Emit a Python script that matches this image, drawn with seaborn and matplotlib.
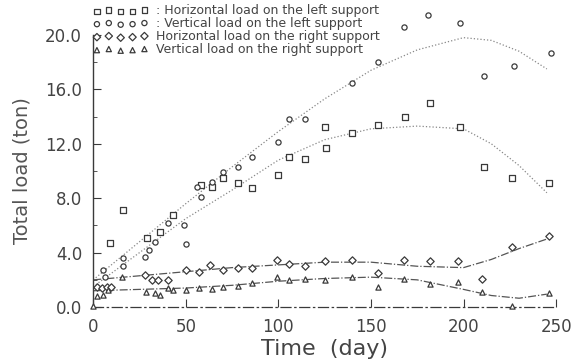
import numpy as np
import pandas as pd
import matplotlib
matplotlib.use("Agg")
import matplotlib.pyplot as plt
import seaborn as sns

# ---- data ----
vl_x = [5.4, 6.5, 16, 16, 28, 30, 33.5, 40.5, 49, 50, 56, 58, 64, 70, 78, 86, 100, 106, 114.6, 140, 154, 168, 181, 198, 211, 227, 247]
vl_y = [2.7, 2.2, 3.6, 3.0, 3.7, 4.2, 4.8, 6.2, 6.0, 4.6, 8.8, 8.1, 9.2, 9.9, 10.3, 11.0, 12.1, 13.8, 13.8, 16.5, 18.0, 20.6, 21.5, 20.9, 17.0, 17.7, 18.7]

hl_x = [9.2, 16, 29, 36, 43, 58, 64, 70, 78, 86, 100, 106, 114.6, 125, 126, 140, 154, 168.6, 182, 198, 211, 226, 246]
hl_y = [4.7, 7.1, 5.1, 5.5, 6.8, 9.0, 8.8, 9.5, 9.1, 8.75, 9.7, 11.0, 10.9, 13.2, 11.7, 12.8, 13.4, 14.0, 15.0, 13.2, 10.3, 9.5, 9.1]

hr_x = [2, 5, 7.5, 9.7, 28, 32, 35, 40.5, 50, 57, 63, 70, 78, 86, 99.5, 106, 114.6, 125, 140, 154, 168, 182, 197, 210, 226, 246]
hr_y = [1.5, 1.4, 1.5, 1.5, 2.35, 2.0, 2.0, 2.0, 2.7, 2.6, 3.1, 2.7, 2.9, 2.9, 3.45, 3.2, 3.0, 3.4, 3.45, 2.5, 3.45, 3.4, 3.4, 2.1, 4.4, 5.2]

vr_x = [0, 2, 5.5, 8, 15.7, 28.6, 33.5, 36, 40.5, 43, 50, 57, 64, 70, 78, 86, 99.5, 106, 114.6, 125, 140, 154, 168, 182, 197, 210, 226, 246]
vr_y = [0.05, 0.8, 0.9, 1.25, 2.2, 1.1, 1.0, 0.9, 1.4, 1.25, 1.25, 1.4, 1.3, 1.5, 1.55, 1.8, 2.2, 2.0, 2.1, 2.0, 2.2, 1.5, 2.1, 1.7, 1.85, 1.1, 0.1, 1.0]

# fitted trend curves
fit_x = [0, 25, 50, 75, 100, 125, 150, 175, 200, 215, 230, 245]
fit_vl = [2.0, 4.8, 7.6, 10.3, 12.9, 15.3, 17.4, 18.9, 19.8, 19.6, 18.8, 17.5]
fit_hl = [1.5, 4.0, 6.5, 8.6, 10.8, 12.3, 13.1, 13.3, 13.1, 12.0, 10.4, 8.4]
fit_hr = [2.0, 2.3, 2.6, 2.9, 3.1, 3.3, 3.3, 3.0, 2.9, 3.5, 4.3, 5.0]
fit_vr = [1.2, 1.3, 1.4, 1.6, 1.9, 2.1, 2.2, 2.0, 1.3, 0.85, 0.65, 0.95]

labels = [": Horizontal load on the left support",
          ": Vertical load on the left support",
          "Horizontal load on the right support",
          "Vertical load on the right support"]
yticks = [0, 4, 8, 12, 16, 20]
ytick_labels = ["0.0", "4.0", "8.0", "12.0", "16.0", "20.0"]
xticks = [0, 50, 100, 150, 200, 250]

sns.set_theme(style="white")
plt.rcParams['font.family'] = ['DejaVu Sans']

fig = plt.figure(figsize=(5.86, 3.60), dpi=100)
ax = fig.add_axes([0.159, 0.147, 0.79, 0.756])

ink = "#3a3a3a"
series = [
    (hl_x, hl_y, "s", labels[0]),
    (vl_x, vl_y, "o", labels[1]),
    (hr_x, hr_y, "D", labels[2]),
    (vr_x, vr_y, "^", labels[3]),
]
for xs, ys, m, lab in series:
    df = pd.DataFrame({"x": xs, "y": ys})
    sns.scatterplot(data=df, x="x", y="y", ax=ax, marker=m, s=14,
                    facecolor="white", edgecolor=ink, linewidth=0.9,
                    label=lab, clip_on=False, zorder=3)

fits = [(fit_vl, ":", "#888888"), (fit_hl, ":", "#888888"),
        (fit_hr, "-.", "#555555"), (fit_vr, "-.", "#555555")]
for fy, ls, c in fits:
    dff = pd.DataFrame({"x": fit_x, "y": fy})
    sns.lineplot(data=dff, x="x", y="y", ax=ax, color=c, linestyle=ls,
                 linewidth=0.9, zorder=2)

ax.set_xlim(0, 250)
ax.set_ylim(0, 20)
ax.set_xticks(xticks)
ax.set_xticklabels([str(v) for v in xticks])
ax.set_yticks(yticks)
ax.set_yticklabels(ytick_labels)
ax.set_yticks([2, 6, 10, 14, 18], minor=True)
ax.tick_params(axis="both", which="major", direction="in", length=6,
               width=0.8, color=ink, labelsize=12, labelcolor="#444444", pad=8)
ax.tick_params(axis="y", which="minor", direction="in", length=3,
               width=0.6, color=ink, left=True)
ax.tick_params(axis="x", bottom=True)
ax.tick_params(axis="y", left=True)

for s in ["top", "right"]:
    ax.spines[s].set_visible(False)
ax.spines["left"].set_color(ink)
ax.spines["left"].set_linewidth(1.0)
ax.spines["bottom"].set_color(ink)
ax.spines["bottom"].set_linewidth(0.9)
ax.spines["bottom"].set_linestyle((0, (8, 3, 1, 3)))

ax.set_xlabel("Time  (day)", fontsize=16, color="#444444", labelpad=2)
ax.set_ylabel("Total load (ton)", fontsize=14, color="#555555", labelpad=10)

leg = ax.legend(loc="upper left", bbox_to_anchor=(0.0, 1.112),
                frameon=False, fontsize=9, scatterpoints=5,
                handlelength=4.4, handletextpad=0.6, labelspacing=0.0,
                borderpad=0.0, borderaxespad=0.0)
for t in leg.get_texts():
    t.set_color("#444444")

fig.savefig("out.png", dpi=100)
